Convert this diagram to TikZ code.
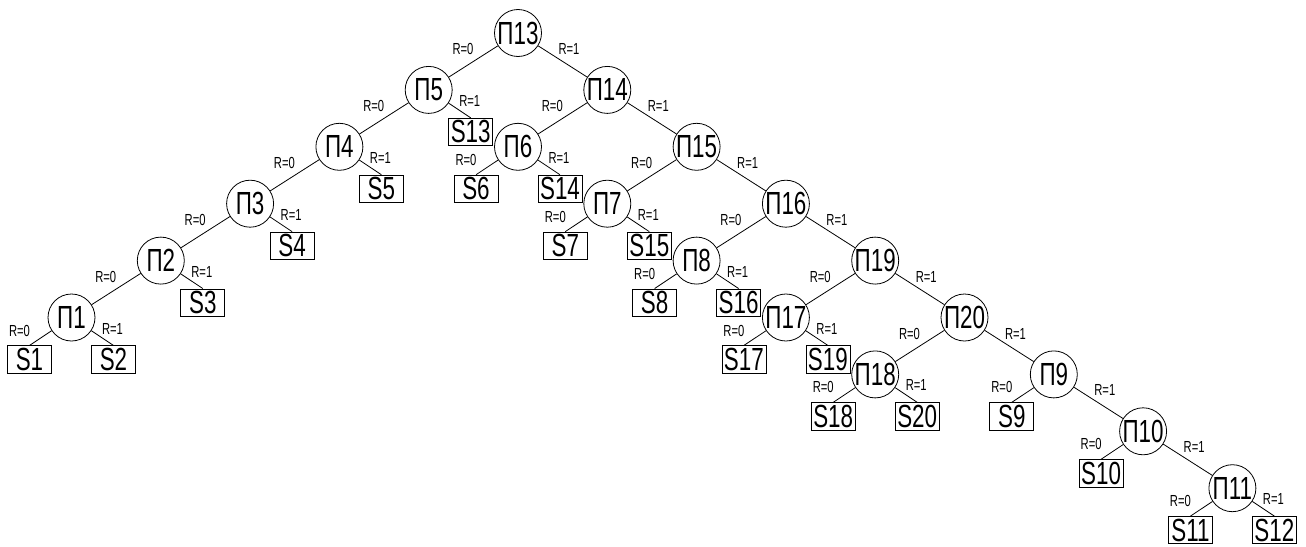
\documentclass[tikz,border=0pt]{standalone}
\usepackage{fontspec}
\setmainfont{Liberation Sans}[FakeStretch=0.7]
\begin{document}
\begin{tikzpicture}[x=0.75pt, y=-0.75pt, line width=0.6pt,
  pnode/.style={circle, draw, inner sep=0pt, minimum size=35.25pt, font=\fontsize{24}{24}\selectfont},
  sbox/.style={rectangle, draw, inner sep=0pt, minimum width=33pt, minimum height=20.5pt, font=\fontsize{24}{24}\selectfont},
  rlab/.style={inner sep=0pt, font=\fontsize{12}{12}\selectfont}]
  \useasboundingbox (0,0) rectangle (1306,546);
  % circle nodes: number/column/level
  \foreach \n/\col/\lev in {13/0/0, 5/-1/1, 14/1/1, 4/-2/2, 6/0/2, 15/2/2,
      3/-3/3, 7/1/3, 16/3/3, 2/-4/4, 8/2/4, 19/4/4, 1/-5/5, 17/3/5, 20/5/5,
      18/4/6, 9/6/6, 10/7/7, 11/8/8}{
    \node[pnode] (P\n) at ({518+\col*89.3}, {33+\lev*56.9}) {П\n};
  }
  % circle to circle, R=0
  \foreach \a/\b in {13/5, 5/4, 4/3, 3/2, 2/1, 14/6, 15/7, 16/8, 19/17, 20/18}{
    \draw (P\a) -- (P\b);
    \node[rlab] (R\a-\b) at ([shift={(-55,16)}]P\a) {R=0};
  }
  % circle to circle, R=1
  \foreach \a/\b in {13/14, 14/15, 15/16, 16/19, 19/20, 20/9, 9/10, 10/11}{
    \draw (P\a) -- (P\b);
    \node[rlab] (R\a-\b) at ([shift={(51,16)}]P\a) {R=1};
  }
  % boxes on the left, R=0
  \foreach \s/\p in {1/1, 6/6, 7/7, 8/8, 17/17, 18/18, 9/9, 10/10, 11/11}{
    \node[sbox] (S\s) at ([shift={(-42,42)}]P\p) {S\s};
    \draw (P\p) -- (S\s.north);
    \node[rlab] (R\p-S\s) at ([shift={(-52,13)}]P\p) {R=0};
  }
  % boxes on the right, R=1
  \foreach \s/\p in {2/1, 3/2, 4/3, 5/4, 13/5, 14/6, 15/7, 16/8, 19/17, 20/18, 12/11}{
    \node[sbox] (S\s) at ([shift={(42,42)}]P\p) {S\s};
    \draw (P\p) -- (S\s.north);
    \node[rlab] (R\p-S\s) at ([shift={(41,11)}]P\p) {R=1};
  }
\end{tikzpicture}
\end{document}
